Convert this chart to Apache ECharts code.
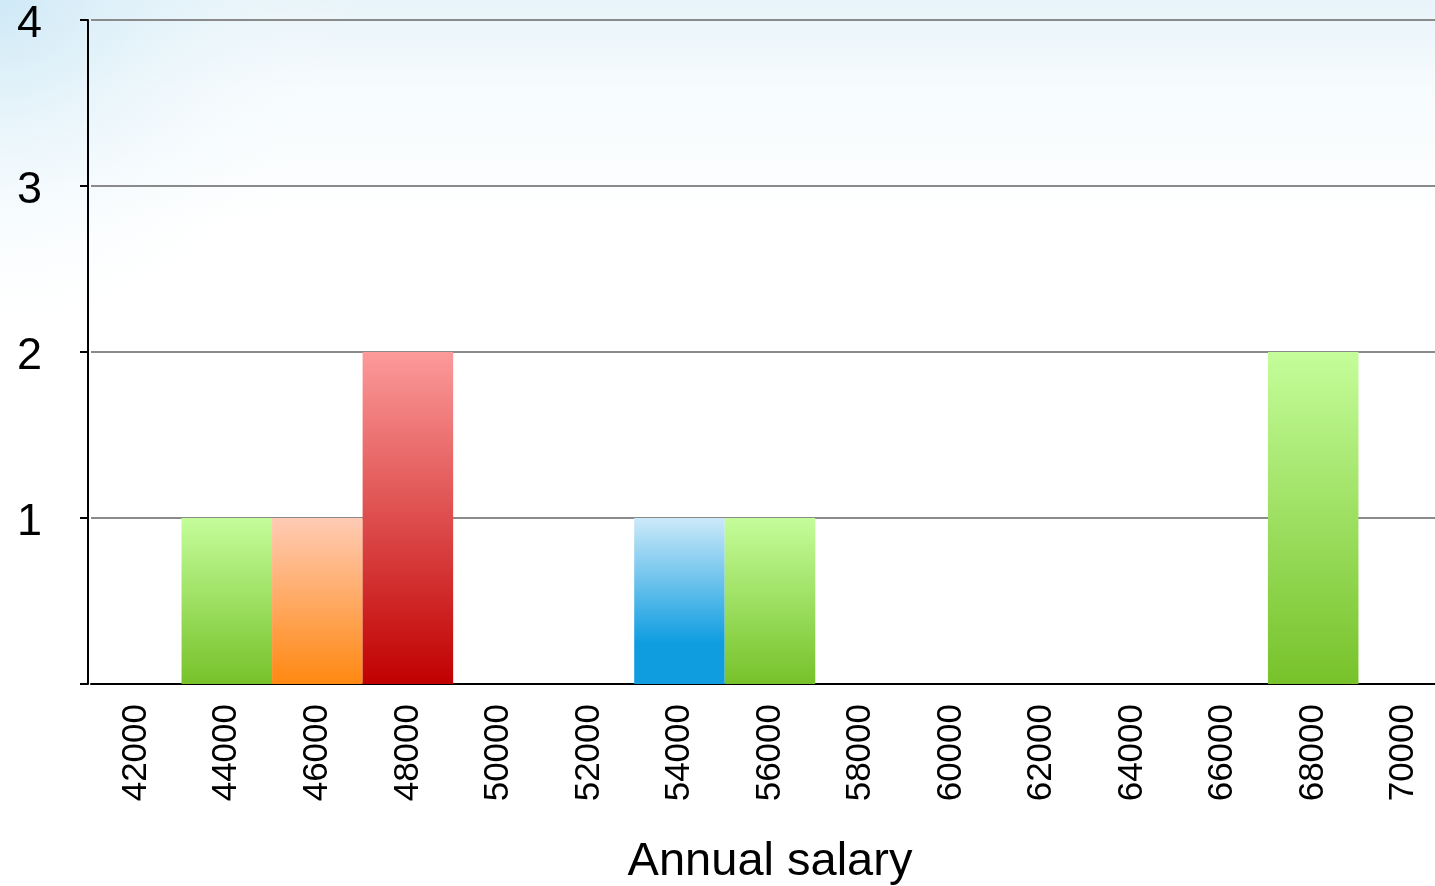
<!DOCTYPE html>
<html>
<head>
<meta charset="utf-8">
<script src="https://cdn.jsdelivr.net/npm/echarts@6/dist/echarts.min.js"></script>
<style>
  html, body { margin: 0; padding: 0; }
  #chart { width: 1435px; height: 886px; }
</style>
</head>
<body>
<div id="chart"></div>
<script>
  // salary bins and how many people fall in each
  const salaryBins = ['42000', '44000', '46000', '48000', '50000', '52000', '54000', '56000',
    '58000', '60000', '62000', '64000', '66000', '68000', '70000']
  const counts = [0, 1, 1, 2, 0, 0, 1, 1, 0, 0, 0, 0, 0, 2, 0]
  const yTicks = [0, 1, 2, 3, 4]

  // gradient per bin: [top, bottom]
  const green = ['#c4fd9a', '#77c22a']
  const barColors = [green, green, ['#ffcbb5', '#ff8811'], ['#fc9a9a', '#c00000'], green, green,
    ['#cce9f9', '#0f9de0'], green, green, green, green, green, green, green, green]

  const grad = (c, mid) => {
    const stops = [{ offset: 0, color: c[0] }, { offset: 1, color: c[1] }]
    if (mid) stops.splice(1, 0, { offset: mid, color: c[1] })
    return new echarts.graphic.LinearGradient(0, 0, 0, 1, stops)
  }

  const chart = echarts.init(document.getElementById('chart'))
  chart.setOption({
    animation: false,
    backgroundColor: new echarts.graphic.LinearGradient(0, 0, 0, 1, [
      { offset: 0, color: '#e8f4fa' },
      { offset: 0.1, color: '#f6fbfd' },
      { offset: 0.25, color: '#ffffff' },
      { offset: 1, color: '#ffffff' },
    ]),
    // soft sky patch in the top-left corner
    graphic: [
      {
        type: 'rect',
        z: -10,
        silent: true,
        shape: { x: 0, y: 0, width: 420, height: 360 },
        style: {
          fill: new echarts.graphic.RadialGradient(0, 0, 1, [
            { offset: 0, color: 'rgba(200,230,245,0.8)' },
            { offset: 0.55, color: 'rgba(225,242,250,0.3)' },
            { offset: 1, color: 'rgba(255,255,255,0)' },
          ]),
        },
      },
    ],
    grid: {
      left: 91, width: 1358, top: 20, bottom: 202,
      containLabel: false, outerBoundsMode: 'none',
    },
    xAxis: {
      type: 'category',
      data: salaryBins,
      name: 'Annual salary',
      nameLocation: 'middle',
      nameGap: 155,
      nameTextStyle: { fontSize: 47, color: '#000', fontFamily: 'Liberation Sans' },
      axisLine: { lineStyle: { color: '#000', width: 2 } },
      axisTick: { show: false },
      axisLabel: {
        rotate: 90,
        margin: 20,
        fontSize: 35,
        color: '#000',
        fontFamily: 'Liberation Sans',
        interval: 0,
      },
    },
    yAxis: {
      type: 'value',
      min: yTicks[0],
      max: yTicks[yTicks.length - 1],
      interval: 1,
      offset: 3,
      axisLine: { show: true, lineStyle: { color: '#000', width: 2 } },
      axisTick: { show: true, length: 8, lineStyle: { color: '#000', width: 2 } },
      axisLabel: {
        margin: 46,
        fontSize: 45,
        color: '#000',
        fontFamily: 'Liberation Sans',
        verticalAlign: 'top',
        lineHeight: 10,
        formatter: (v) => (v === 0 ? '' : String(v)),
      },
      splitLine: { lineStyle: { color: '#8a8a8a', width: 2 } },
    },
    series: [
      {
        type: 'bar',
        barCategoryGap: '0%',
        data: counts.map((v, i) => ({
          value: v,
          itemStyle: { color: grad(barColors[i], barColors[i][1] === '#0f9de0' ? 0.75 : 0) },
        })),
      },
    ],
  })
</script>
</body>
</html>
